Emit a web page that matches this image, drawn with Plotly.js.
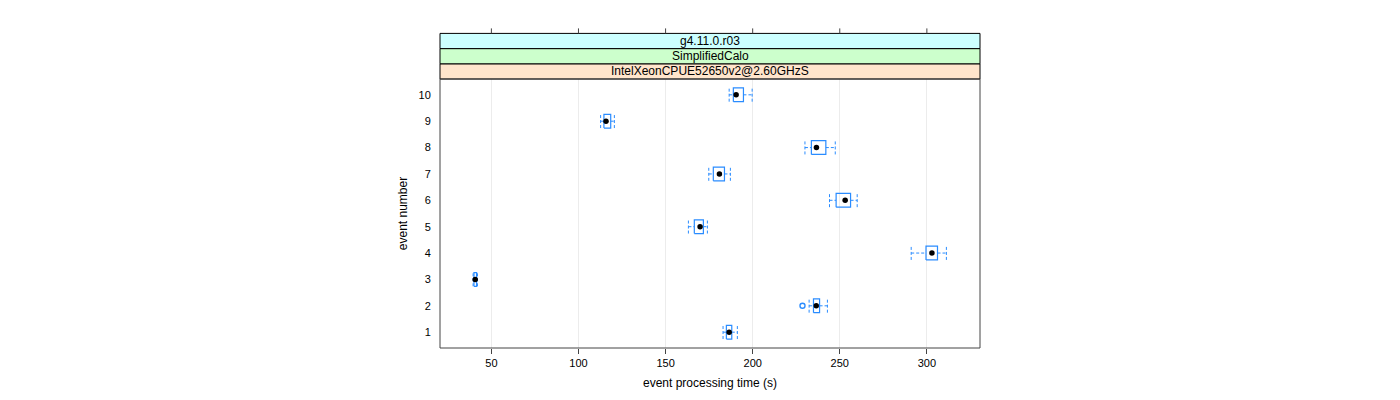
<!DOCTYPE html>
<html><head><meta charset="utf-8">
<script src="https://cdn.plot.ly/plotly-3.0.1.min.js"></script>
<style>html,body{margin:0;padding:0;background:#fff}</style>
</head><body><div id="chart" style="width:1400px;height:400px"></div>
<script>
// ---- data ----
const events        = [1, 2, 3, 4, 5, 6, 7, 8, 9, 10];
const lowerWhisker  = [183.0, 232.4, 39.5, 291.0, 163.1, 244.1, 174.8, 230.0, 112.7, 186.5];
const lowerQuartile = [184.9, 234.9, 40.0, 299.5, 166.5, 247.9, 177.4, 233.7, 114.6, 188.9];
const medians       = [186.5, 236.5, 40.7, 302.9, 169.8, 253.1, 180.9, 236.6, 115.8, 190.5];
const upperQuartile = [188.0, 238.4, 41.5, 306.1, 171.7, 256.2, 183.8, 242.0, 118.5, 194.7];
const upperWhisker  = [191.2, 242.9, 42.0, 311.2, 174.0, 260.0, 187.2, 247.4, 120.6, 199.7];
const outlierEvents = [2];
const outlierValues = [228.6];
const xTickVals     = [50, 100, 150, 200, 250, 300];
const stripLabels   = ["IntelXeonCPUE52650v2@2.60GHzS", "SimplifiedCalo", "g4.11.0.r03"];
const stripColors   = ["#ffe5cc", "#ccffcc", "#ccffff"];

// ---- build marks ----
const H = 0.26;          // half box height (in category units)
const FONT = "Liberation Sans, Arial, Helvetica, sans-serif";
const BLUE = "#2a8cff";
const boxX = [], boxY = [], whX = [], whY = [], capX = [], capY = [];
events.forEach((e, i) => {
  const a = lowerQuartile[i], b = upperQuartile[i];
  boxX.push(a, b, b, a, a, null);
  boxY.push(e - H, e - H, e + H, e + H, e - H, null);
  whX.push(lowerWhisker[i], a, null, b, upperWhisker[i], null);
  whY.push(e, e, null, e, e, null);
  capX.push(lowerWhisker[i], lowerWhisker[i], null, upperWhisker[i], upperWhisker[i], null);
  capY.push(e - H, e + H, null, e - H, e + H, null);
});

const traces = [
  {x: whX, y: whY, mode: "lines", line: {color: BLUE, width: 1, dash: "3px,2px"}, hoverinfo: "skip"},
  {x: capX, y: capY, mode: "lines", line: {color: BLUE, width: 1, dash: "3px,2px"}, hoverinfo: "skip"},
  {x: boxX, y: boxY, mode: "lines", line: {color: BLUE, width: 1.2}, hoverinfo: "skip"},
  {x: medians, y: events, mode: "markers", marker: {color: "#000", size: 5.5, symbol: "circle"}},
  {x: outlierValues, y: outlierEvents, mode: "markers",
   marker: {color: BLUE, size: 5, symbol: "circle-open", line: {color: BLUE, width: 1.4}}}
];

const plotH = 400 - 79 - 52;
const sp = 15.2 / plotH;   // strip height in paper units
const shapes = [];
const annotations = [];
stripLabels.forEach((lab, k) => {
  shapes.push({type: "rect", xref: "paper", yref: "paper", x0: 0, x1: 1,
    y0: 1 + k * sp, y1: 1 + (k + 1) * sp, fillcolor: stripColors[k],
    line: {color: "#000", width: 1}, layer: "above"});
  annotations.push({xref: "paper", yref: "paper", x: 0.5, y: 1 + (k + 0.5) * sp,
    text: lab, showarrow: false, xanchor: "center", yanchor: "middle",
    font: {family: FONT, size: 12, color: "#000"}});
});
// panel border
shapes.push({type: "rect", xref: "paper", yref: "paper", x0: 0, x1: 1, y0: 0, y1: 1,
  line: {color: "#444", width: 1}, layer: "above"});
// top ticks above strips
xTickVals.forEach(v => {
  shapes.push({type: "line", xref: "x", yref: "paper", x0: v, x1: v,
    y0: 1 + 3 * sp, y1: 1 + 3 * sp + 5 / plotH, line: {color: "#444", width: 1}});
});

const layout = {
  width: 1400, height: 400,
  margin: {l: 440, r: 420, t: 79, b: 52},
  paper_bgcolor: "#fff", plot_bgcolor: "#fff",
  showlegend: false,
  font: {family: FONT, size: 11, color: "#000"},
  xaxis: {range: [20.5, 330.5], tickvals: xTickVals, ticktext: xTickVals.map(String),
    ticks: "outside", ticklen: 5, tickcolor: "#444", showline: false, zeroline: false,
    showgrid: true, gridcolor: "#ececec", gridwidth: 1,
    tickfont: {family: FONT, size: 11, color: "#000"},
    title: {text: "event processing time (s)", standoff: 10, font: {family: FONT, size: 12, color: "#000"}},
    automargin: false},
  yaxis: {range: [0.4, 10.6], tickvals: events, ticktext: events.map(String),
    ticks: "outside", ticklen: 6, tickcolor: "rgba(0,0,0,0)", showline: false, zeroline: false,
    showgrid: false, tickfont: {family: FONT, size: 11, color: "#000"},
    title: {text: "event number", standoff: 8, font: {family: FONT, size: 12, color: "#000"}},
    automargin: false},
  shapes: shapes,
  annotations: annotations
};

Plotly.newPlot("chart", traces, layout, {staticPlot: true, displayModeBar: false});
</script>
</body></html>
